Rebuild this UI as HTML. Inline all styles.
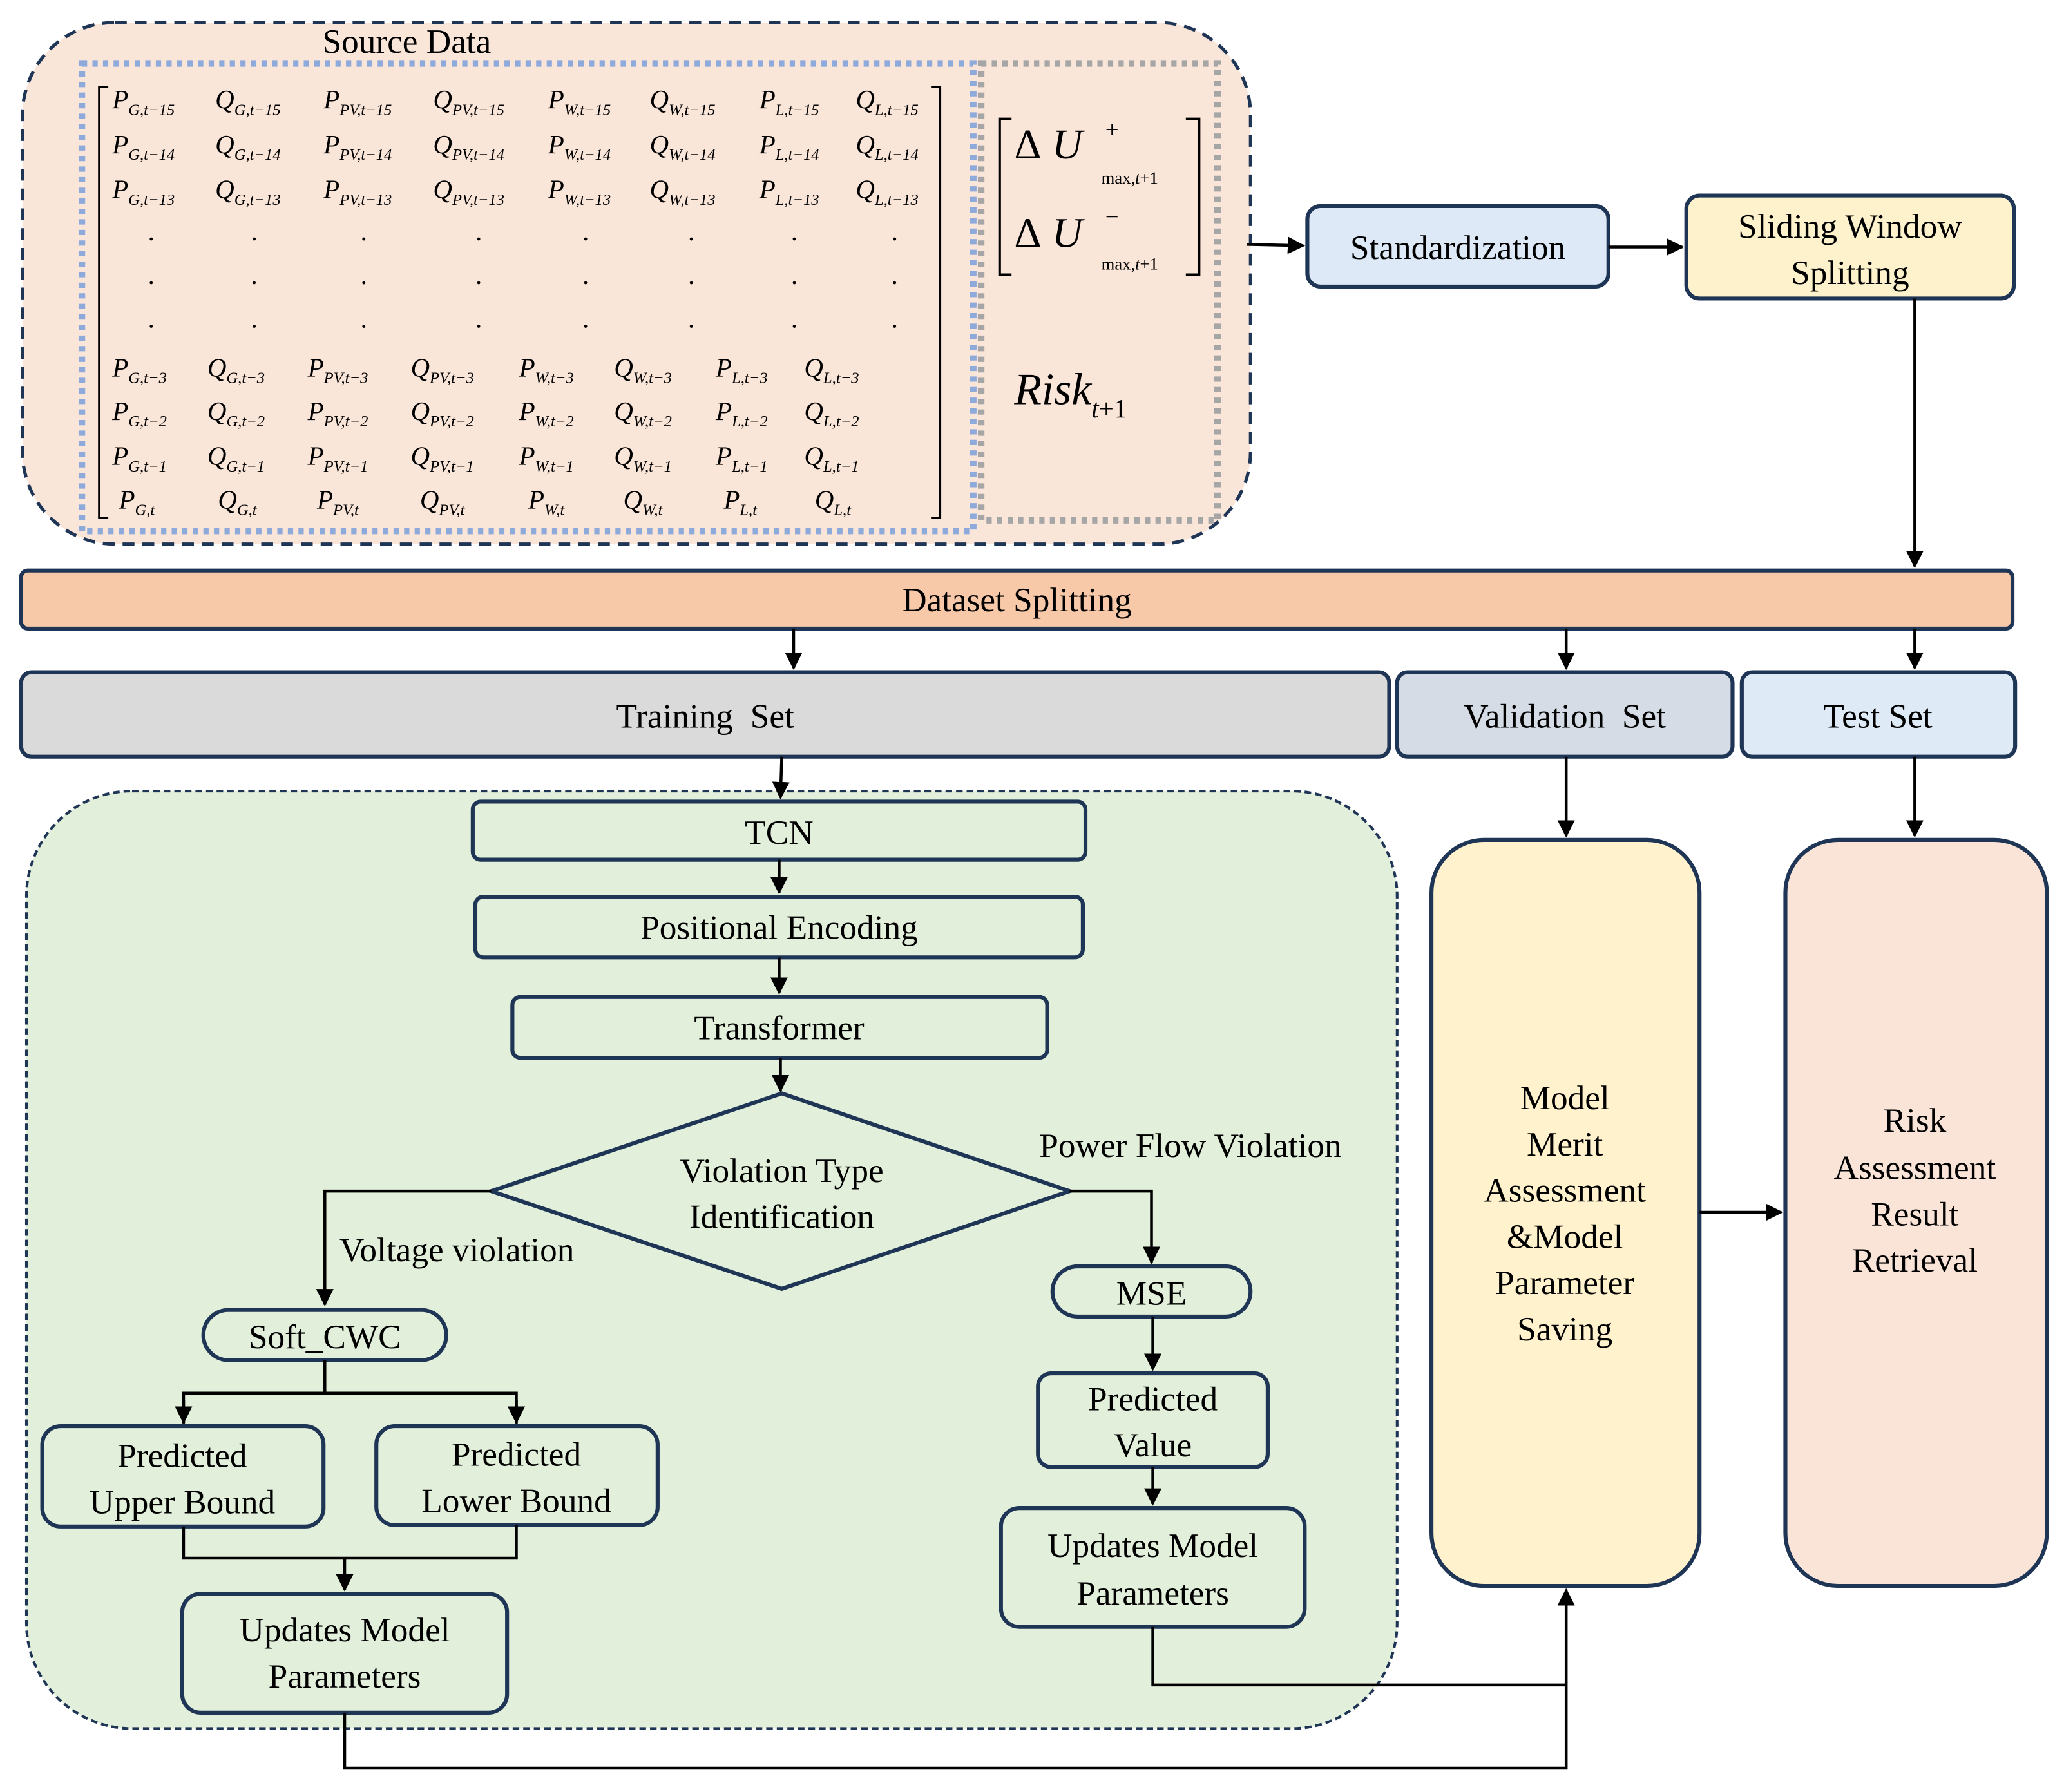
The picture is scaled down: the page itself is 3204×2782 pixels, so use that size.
<!DOCTYPE html>
<html><head><meta charset="utf-8"><style>
html,body{margin:0;padding:0;background:#fff;width:3204px;height:2782px;overflow:hidden}
svg{display:block}
text{font-family:"Liberation Serif",serif;fill:#000}
.c{text-anchor:middle}
.m{font-style:italic;font-size:20px}
.m tspan{font-size:12px}
.b{stroke:#1f3556;stroke-width:3}
.l{stroke:#000;stroke-width:2.2;fill:none}
</style></head><body>
<svg width="3204" height="2782" viewBox="0 0 1563 1357" xmlns="http://www.w3.org/2000/svg">
<defs><marker id="a" viewBox="0 0 10 10" refX="9" refY="5" markerWidth="6" markerHeight="6" orient="auto"><path d="M0,0L10,5L0,10z" fill="#000"/></marker></defs>

<!-- Source data -->
<rect x="17" y="17" width="930" height="395" rx="70" fill="#fae5d9" stroke="#1f3556" stroke-width="2.5" stroke-dasharray="9 6"/>
<text x="308" y="40" class="c" font-size="26">Source Data</text>
<rect x="62" y="48" width="675" height="354" fill="none" stroke="#8eaadb" stroke-width="5" stroke-dasharray="4 4"/>
<rect x="743" y="48" width="179" height="346" fill="none" stroke="#a6a6a6" stroke-width="5" stroke-dasharray="4 4"/>
<path d="M82,66H75V392H82M705,66H712V392H705" stroke="#000" stroke-width="1.5" fill="none"/>
<path d="M766,90H757V208H766M898,90H908V208H898" stroke="#000" stroke-width="2" fill="none"/>
<text x="768" y="120" font-size="32" font-style="italic"><tspan font-style="normal">Δ</tspan> U</text>
<text x="837" y="104" font-size="18">+</text>
<text x="834" y="139" font-size="13">max,<tspan font-style="italic">t</tspan>+1</text>
<text x="768" y="187" font-size="32" font-style="italic"><tspan font-style="normal">Δ</tspan> U</text>
<text x="837" y="170" font-size="18">−</text>
<text x="834" y="204" font-size="13">max,<tspan font-style="italic">t</tspan>+1</text>
<text x="768" y="306" font-size="34" font-style="italic">Risk<tspan font-size="20" dy="10">t</tspan><tspan font-size="20" font-style="normal">+1</tspan></text>

<g class="m">
<text x="85" y="82">P<tspan dy="5">G,t−15</tspan></text><text x="163" y="82">Q<tspan dy="5">G,t−15</tspan></text><text x="245" y="82">P<tspan dy="5">PV,t−15</tspan></text><text x="328" y="82">Q<tspan dy="5">PV,t−15</tspan></text><text x="415" y="82">P<tspan dy="5">W,t−15</tspan></text><text x="492" y="82">Q<tspan dy="5">W,t−15</tspan></text><text x="575" y="82">P<tspan dy="5">L,t−15</tspan></text><text x="648" y="82">Q<tspan dy="5">L,t−15</tspan></text>
<text x="85" y="116">P<tspan dy="5">G,t−14</tspan></text><text x="163" y="116">Q<tspan dy="5">G,t−14</tspan></text><text x="245" y="116">P<tspan dy="5">PV,t−14</tspan></text><text x="328" y="116">Q<tspan dy="5">PV,t−14</tspan></text><text x="415" y="116">P<tspan dy="5">W,t−14</tspan></text><text x="492" y="116">Q<tspan dy="5">W,t−14</tspan></text><text x="575" y="116">P<tspan dy="5">L,t−14</tspan></text><text x="648" y="116">Q<tspan dy="5">L,t−14</tspan></text>
<text x="85" y="150">P<tspan dy="5">G,t−13</tspan></text><text x="163" y="150">Q<tspan dy="5">G,t−13</tspan></text><text x="245" y="150">P<tspan dy="5">PV,t−13</tspan></text><text x="328" y="150">Q<tspan dy="5">PV,t−13</tspan></text><text x="415" y="150">P<tspan dy="5">W,t−13</tspan></text><text x="492" y="150">Q<tspan dy="5">W,t−13</tspan></text><text x="575" y="150">P<tspan dy="5">L,t−13</tspan></text><text x="648" y="150">Q<tspan dy="5">L,t−13</tspan></text>
<text x="85" y="285">P<tspan dy="5">G,t−3</tspan></text><text x="157" y="285">Q<tspan dy="5">G,t−3</tspan></text><text x="233" y="285">P<tspan dy="5">PV,t−3</tspan></text><text x="311" y="285">Q<tspan dy="5">PV,t−3</tspan></text><text x="393" y="285">P<tspan dy="5">W,t−3</tspan></text><text x="465" y="285">Q<tspan dy="5">W,t−3</tspan></text><text x="542" y="285">P<tspan dy="5">L,t−3</tspan></text><text x="609" y="285">Q<tspan dy="5">L,t−3</tspan></text>
<text x="85" y="318">P<tspan dy="5">G,t−2</tspan></text><text x="157" y="318">Q<tspan dy="5">G,t−2</tspan></text><text x="233" y="318">P<tspan dy="5">PV,t−2</tspan></text><text x="311" y="318">Q<tspan dy="5">PV,t−2</tspan></text><text x="393" y="318">P<tspan dy="5">W,t−2</tspan></text><text x="465" y="318">Q<tspan dy="5">W,t−2</tspan></text><text x="542" y="318">P<tspan dy="5">L,t−2</tspan></text><text x="609" y="318">Q<tspan dy="5">L,t−2</tspan></text>
<text x="85" y="352">P<tspan dy="5">G,t−1</tspan></text><text x="157" y="352">Q<tspan dy="5">G,t−1</tspan></text><text x="233" y="352">P<tspan dy="5">PV,t−1</tspan></text><text x="311" y="352">Q<tspan dy="5">PV,t−1</tspan></text><text x="393" y="352">P<tspan dy="5">W,t−1</tspan></text><text x="465" y="352">Q<tspan dy="5">W,t−1</tspan></text><text x="542" y="352">P<tspan dy="5">L,t−1</tspan></text><text x="609" y="352">Q<tspan dy="5">L,t−1</tspan></text>
<text x="90" y="385">P<tspan dy="5">G,t</tspan></text><text x="165" y="385">Q<tspan dy="5">G,t</tspan></text><text x="240" y="385">P<tspan dy="5">PV,t</tspan></text><text x="318" y="385">Q<tspan dy="5">PV,t</tspan></text><text x="400" y="385">P<tspan dy="5">W,t</tspan></text><text x="472" y="385">Q<tspan dy="5">W,t</tspan></text><text x="548" y="385">P<tspan dy="5">L,t</tspan></text><text x="617" y="385">Q<tspan dy="5">L,t</tspan></text>
</g>
<g font-size="20">
<text x="112" y="182">.</text><text x="190" y="182">.</text><text x="273" y="182">.</text><text x="360" y="182">.</text><text x="441" y="182">.</text><text x="521" y="182">.</text><text x="599" y="182">.</text><text x="675" y="182">.</text>
<text x="112" y="215">.</text><text x="190" y="215">.</text><text x="273" y="215">.</text><text x="360" y="215">.</text><text x="441" y="215">.</text><text x="521" y="215">.</text><text x="599" y="215">.</text><text x="675" y="215">.</text>
<text x="112" y="248">.</text><text x="190" y="248">.</text><text x="273" y="248">.</text><text x="360" y="248">.</text><text x="441" y="248">.</text><text x="521" y="248">.</text><text x="599" y="248">.</text><text x="675" y="248">.</text>
</g>

<!-- top right flow -->
<line x1="944" y1="185" x2="987" y2="186" class="l" stroke-width="3" marker-end="url(#a)"/>
<rect x="990" y="156" width="228" height="61" rx="10" fill="#dde9f6" class="b"/>
<text x="1104" y="196" class="c" font-size="26">Standardization</text>
<line x1="1218" y1="187" x2="1274" y2="187" class="l" stroke-width="3" marker-end="url(#a)"/>
<rect x="1277" y="148" width="248" height="78" rx="10" fill="#fdf2cc" class="b"/>
<text x="1401" y="180" class="c" font-size="26">Sliding Window</text>
<text x="1401" y="215" class="c" font-size="26">Splitting</text>
<line x1="1450" y1="226" x2="1450" y2="429" class="l" marker-end="url(#a)"/>

<!-- dataset splitting -->
<rect x="16" y="432" width="1508" height="44" rx="5" fill="#f7c9a8" class="b"/>
<text x="770" y="463" class="c" font-size="26">Dataset Splitting</text>
<line x1="601" y1="476" x2="601" y2="506" class="l" marker-end="url(#a)"/>
<line x1="1186" y1="476" x2="1186" y2="506" class="l" marker-end="url(#a)"/>
<line x1="1450" y1="476" x2="1450" y2="506" class="l" marker-end="url(#a)"/>
<rect x="16" y="509" width="1036" height="64" rx="8" fill="#dadada" class="b"/>
<text x="534" y="551" class="c" font-size="26" xml:space="preserve">Training  Set</text>
<rect x="1058" y="509" width="254" height="64" rx="8" fill="#d6dce5" class="b"/>
<text x="1185" y="551" class="c" font-size="26" xml:space="preserve">Validation  Set</text>
<rect x="1319" y="509" width="207" height="64" rx="8" fill="#deebf7" class="b"/>
<text x="1422" y="551" class="c" font-size="26">Test Set</text>

<!-- green container -->
<rect x="20" y="599" width="1038" height="710" rx="80" fill="#e2efda" stroke="#1f3556" stroke-width="2" stroke-dasharray="5 3"/>
<line x1="592" y1="573" x2="591" y2="604" class="l" marker-end="url(#a)"/>
<rect x="358" y="607" width="464" height="44" rx="6" fill="#e2efda" class="b"/>
<text x="590" y="639" class="c" font-size="26">TCN</text>
<line x1="590" y1="651" x2="590" y2="676" class="l" marker-end="url(#a)"/>
<rect x="360" y="679" width="460" height="46" rx="6" fill="#e2efda" class="b"/>
<text x="590" y="711" class="c" font-size="26">Positional Encoding</text>
<line x1="590" y1="725" x2="590" y2="752" class="l" marker-end="url(#a)"/>
<rect x="388" y="755" width="405" height="46" rx="6" fill="#e2efda" class="b"/>
<text x="590" y="787" class="c" font-size="26">Transformer</text>
<line x1="591" y1="801" x2="591" y2="826" class="l" marker-end="url(#a)"/>
<polygon points="592,828 810,902 592,976 372,902" fill="#e2efda" class="b"/>
<text x="592" y="895" class="c" font-size="26">Violation Type</text>
<text x="592" y="930" class="c" font-size="26">Identification</text>
<polyline points="372,902 246,902 246,988" class="l" stroke-width="3" marker-end="url(#a)"/>
<text x="257" y="955" font-size="26">Voltage violation</text>
<polyline points="810,902 872,902 872,956" class="l" stroke-width="3" marker-end="url(#a)"/>
<text x="787" y="876" font-size="26">Power Flow Violation</text>

<rect x="154" y="992" width="184" height="38" rx="19" fill="#e2efda" class="b"/>
<text x="246" y="1021" class="c" font-size="26">Soft_CWC</text>
<polyline points="246,1030 246,1055" class="l" stroke-width="3"/>
<polyline points="139,1078 139,1055 391,1055 391,1078" class="l" stroke-width="3"/>
<line x1="139" y1="1060" x2="139" y2="1077" class="l" marker-end="url(#a)"/>
<line x1="391" y1="1060" x2="391" y2="1077" class="l" marker-end="url(#a)"/>
<rect x="32" y="1080" width="213" height="76" rx="14" fill="#e2efda" class="b"/>
<text x="138" y="1111" class="c" font-size="26">Predicted</text>
<text x="138" y="1146" class="c" font-size="26">Upper Bound</text>
<rect x="285" y="1080" width="213" height="75" rx="14" fill="#e2efda" class="b"/>
<text x="391" y="1110" class="c" font-size="26">Predicted</text>
<text x="391" y="1145" class="c" font-size="26">Lower Bound</text>
<polyline points="139,1156 139,1180 391,1180 391,1155" class="l" stroke-width="3"/>
<line x1="261" y1="1180" x2="261" y2="1204" class="l" marker-end="url(#a)"/>
<rect x="138" y="1207" width="246" height="90" rx="14" fill="#e2efda" class="b"/>
<text x="261" y="1243" class="c" font-size="26">Updates Model</text>
<text x="261" y="1278" class="c" font-size="26">Parameters</text>

<rect x="797" y="959" width="150" height="38" rx="19" fill="#e2efda" class="b"/>
<text x="872" y="988" class="c" font-size="26">MSE</text>
<line x1="873" y1="997" x2="873" y2="1037" class="l" stroke-width="2.6" marker-end="url(#a)"/>
<rect x="786" y="1040" width="174" height="71" rx="10" fill="#e2efda" class="b"/>
<text x="873" y="1068" class="c" font-size="26">Predicted</text>
<text x="873" y="1103" class="c" font-size="26">Value</text>
<line x1="873" y1="1111" x2="873" y2="1139" class="l" stroke-width="2.6" marker-end="url(#a)"/>
<rect x="758" y="1142" width="230" height="90" rx="14" fill="#e2efda" class="b"/>
<text x="873" y="1179" class="c" font-size="26">Updates Model</text>
<text x="873" y="1215" class="c" font-size="26">Parameters</text>
<polyline points="873,1232 873,1276 1186,1276" class="l"/>
<polyline points="261,1297 261,1339 1186,1339 1186,1204" class="l" stroke-width="2.6" marker-end="url(#a)"/>

<!-- right columns -->
<line x1="1186" y1="573" x2="1186" y2="633" class="l" stroke-width="2.6" marker-end="url(#a)"/>
<rect x="1084" y="636" width="203" height="565" rx="40" fill="#fff2cc" class="b"/>
<g class="c" font-size="26">
<text x="1185" y="840">Model</text><text x="1185" y="875">Merit</text><text x="1185" y="910">Assessment</text><text x="1185" y="945">&amp;Model</text><text x="1185" y="980">Parameter</text><text x="1185" y="1015">Saving</text>
</g>
<line x1="1287" y1="918" x2="1349" y2="918" class="l" marker-end="url(#a)"/>
<line x1="1450" y1="573" x2="1450" y2="633" class="l" stroke-width="2.6" marker-end="url(#a)"/>
<rect x="1352" y="636" width="198" height="565" rx="40" fill="#fae3d7" class="b"/>
<g class="c" font-size="26">
<text x="1450" y="857">Risk</text><text x="1450" y="893">Assessment</text><text x="1450" y="928">Result</text><text x="1450" y="963">Retrieval</text>
</g>
</svg>
</body></html>
